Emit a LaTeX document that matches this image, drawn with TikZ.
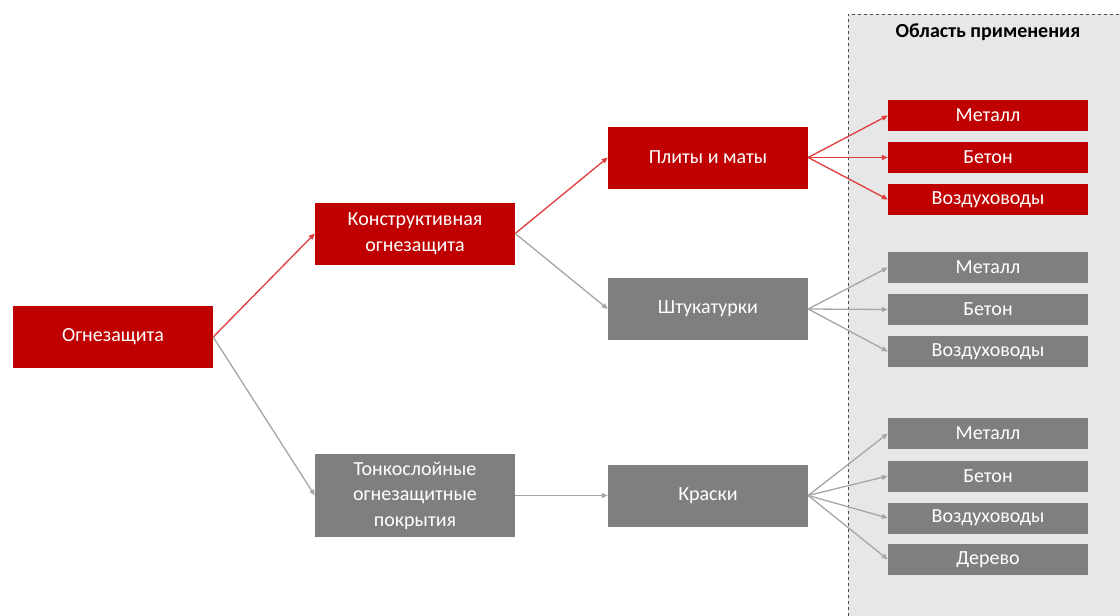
\documentclass[tikz,border=0pt]{standalone}
\usepackage{fontspec}
\setmainfont{Carlito}
\usetikzlibrary{arrows.meta}
\definecolor{bred}{HTML}{C00000}
\definecolor{bgray}{HTML}{7F7F7F}
\definecolor{lred}{HTML}{E03C3C}
\definecolor{lgray}{HTML}{A6A6A6}
\definecolor{panel}{HTML}{E7E7E7}
\begin{document}
\begin{tikzpicture}[x=1pt,y=-1pt,
  box/.style={draw=none,minimum width=200pt,inner sep=0pt,text=white,font=\fontsize{20}{25.5}\selectfont,align=center},
  big/.style={box,minimum height=62pt},
  small/.style={box,minimum height=31pt,font=\fontsize{20}{24}\selectfont},
  redbox/.style={fill=bred},
  graybox/.style={fill=bgray},
  redline/.style={draw=lred,line width=1.3pt,-{Triangle[length=6pt,width=5pt]}},
  grayline/.style={draw=lgray,line width=1.3pt,-{Triangle[length=6pt,width=5pt]}}]
\useasboundingbox (0,0) rectangle (1120,616);
\fill[white] (0,0) rectangle (1120,616);
\fill[panel] (848,14) rectangle (1120,616);
\draw[dashed,line width=0.8pt,black!70] (848,616) -- (848,14) -- (1120,14);
\node[font=\bfseries\fontsize{20}{24}\selectfont] (title) at (988,32) {Область применения};

\node[big,redbox] (ogn) at (113,337) {Огнезащита};
\node[big,redbox] (konst) at (415,233.5) {Конструктивная\\огнезащита};
\node[big,graybox,minimum height=83pt] (tonk) at (415,495.5) {Тонкослойные\\огнезащитные\\покрытия};
\node[big,redbox] (plity) at (708,157.5) {Плиты и маты};
\node[big,graybox] (shtuk) at (708,309) {Штукатурки};
\node[big,graybox] (kraski) at (708,495.5) {Краски};

\node[small,redbox] (m1) at (988,115.5) {Металл};
\node[small,redbox] (b1) at (988,157.5) {Бетон};
\node[small,redbox] (v1) at (988,199.5) {Воздуховоды};
\node[small,graybox] (m2) at (988,267.5) {Металл};
\node[small,graybox] (b2) at (988,309.5) {Бетон};
\node[small,graybox] (v2) at (988,351.5) {Воздуховоды};
\node[small,graybox] (m3) at (988,433.5) {Металл};
\node[small,graybox] (b3) at (988,476) {Бетон};
\node[small,graybox] (v3) at (988,518) {Воздуховоды};
\node[small,graybox] (d3) at (988,559.5) {Дерево};

\draw[redline] (ogn.east) -- (konst.west);
\draw[grayline] (ogn.east) -- (tonk.west);
\draw[redline] (konst.east) -- (plity.west);
\draw[grayline] (konst.east) -- (shtuk.west);
\draw[grayline] (tonk.east) -- (kraski.west);
\foreach \t in {m1,b1,v1} \draw[redline] (plity.east) -- (\t.west);
\foreach \t in {m2,b2,v2} \draw[grayline] (shtuk.east) -- (\t.west);
\foreach \t in {m3,b3,v3,d3} \draw[grayline] (kraski.east) -- (\t.west);
\end{tikzpicture}
\end{document}
